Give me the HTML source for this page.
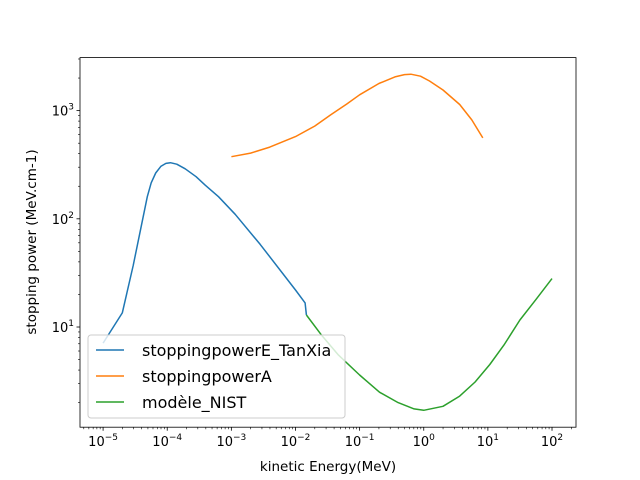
<!DOCTYPE html>
<html><head><meta charset="utf-8"><style>body{margin:0;background:#fff}svg{display:block}text{font-family:"DejaVu Sans","Liberation Sans",sans-serif}</style></head>
<body>
<svg id="c" width="640" height="480"></svg>
<script>
const blueX=[-5,-4.7,-4.53,-4.31,-4.25,-4.18,-4.1,-4.02,-3.95,-3.85,-3.72,-3.55,-3.41,-3.2,-2.94,-2.55,-2.0,-1.85,-1.83];
const blueY=[7.1,13.5,37,160,215,265,305,325,330,320,290,245,205,160,110,58,22,16.7,12.9];
const orangeX=[-3,-2.7,-2.4,-2.0,-1.7,-1.45,-1.2,-1.0,-0.7,-0.45,-0.3,-0.2,-0.05,0.09,0.3,0.56,0.75,0.92];
const orangeY=[375,405,460,575,720,915,1150,1400,1780,2050,2150,2170,2080,1880,1550,1140,820,560];
const greenX=[-1.83,-1.6,-1.33,-1.0,-0.69,-0.4,-0.15,0,0.3,0.56,0.8,1.03,1.25,1.5,1.75,2];
const greenY=[12.9,8.5,5.5,3.6,2.5,2.0,1.75,1.7,1.85,2.3,3.1,4.5,6.8,11.6,18,28];
const xTicks=[-5,-4,-3,-2,-1,0,1,2];
const yTicks=[1,2,3];
const NS='http://www.w3.org/2000/svg',svg=document.getElementById('c');
const L=80,R=576,T=57.6,B=427.2,xmin=-5.36,xmax=2.374,ymin=0.074,ymax=3.49;
const sx=v=>L+(v-xmin)/(xmax-xmin)*(R-L), sy=v=>B-(v-ymin)/(ymax-ymin)*(B-T);
function el(t,a,p){const e=document.createElementNS(NS,t);for(const k in a)e.setAttribute(k,a[k]);(p||svg).appendChild(e);return e;}
function line(xs,ys,col,name){const d=xs.map((x,i)=>(i?'L':'M')+sx(x).toFixed(1)+','+sy(Math.log10(ys[i])).toFixed(1)).join('');
const p=el('path',{d,fill:'none',stroke:col,'stroke-width':1.5,'stroke-linejoin':'round'});

}
line(blueX,blueY,'#1f77b4','series-stoppingpowerE-TanXia');
line(orangeX,orangeY,'#ff7f0e','series-stoppingpowerA');
line(greenX,greenY,'#2ca02c','series-modele-NIST');
const fr=el('rect',{x:L,y:T,width:R-L,height:B-T,fill:'none',stroke:'#000','stroke-width':0.8});


xTicks.forEach(v=>{const x=sx(v);el('line',{x1:x,x2:x,y1:B,y2:B+3.5,stroke:'#000','stroke-width':0.8});
for(let k=2;k<10;k++){const m=sx(v+Math.log10(k));if(m>L&&m<R)el('line',{x1:m,x2:m,y1:B,y2:B+2,stroke:'#000','stroke-width':0.6});}
const t=el('text',{x:x,y:B+19,'font-size':13,'text-anchor':'middle'});t.innerHTML='10<tspan dy="-6" font-size="9">'+(v<0?'\u2212'+(-v):v)+'</tspan>';

});
for(let k=5;k<10;k++){const m=sx(-6+Math.log10(k));if(m>L)el('line',{x1:m,x2:m,y1:B,y2:B+2,stroke:'#000','stroke-width':0.6});}
yTicks.forEach(v=>{const y=sy(v);el('line',{x1:L-3.5,x2:L,y1:y,y2:y,stroke:'#000','stroke-width':0.8});
const t=el('text',{x:L-6,y:y+5,'font-size':13,'text-anchor':'end'});t.innerHTML='10<tspan dy="-6" font-size="9">'+v+'</tspan>';

});
for(let d=0;d<4;d++)for(let k=2;k<10;k++){const y=sy(d+Math.log10(k));if(y>T&&y<B)el('line',{x1:L-2,x2:L,y1:y,y2:y,stroke:'#000','stroke-width':0.6});}
const xl=el('text',{x:(L+R)/2,y:471,'font-size':13.5,'text-anchor':'middle'});xl.textContent='kinetic Energy(MeV)';

const yl=el('text',{x:0,y:0,'font-size':13.5,'text-anchor':'middle',transform:'translate(36,242) rotate(-90)'});yl.textContent='stopping power (MeV.cm-1)';

const lg=el('g',{});
el('rect',{x:88,y:335,width:257,height:83,rx:3,fill:'#fff','fill-opacity':0.8,stroke:'#ccc'},lg);
[['stoppingpowerE_TanXia','#1f77b4'],['stoppingpowerA','#ff7f0e'],['modèle_NIST','#2ca02c']].forEach((e,i)=>{const y=350+i*26;
const g=el('g',{},lg);
el('line',{x1:96,x2:124,y1:y,y2:y,stroke:e[1],'stroke-width':1.5},g);
const t=el('text',{x:142,y:y+6,'font-size':16},g);t.textContent=e[0];});
</script>
</body></html>
